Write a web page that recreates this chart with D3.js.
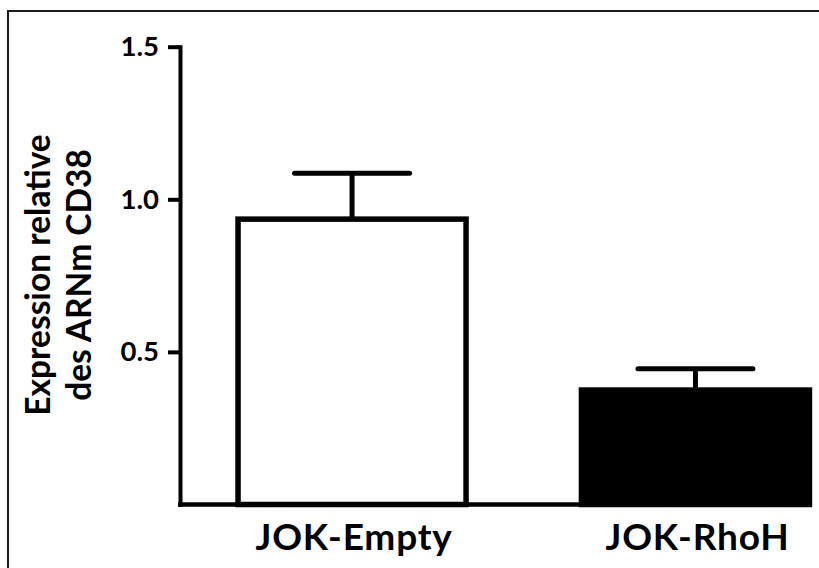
<!DOCTYPE html>
<html>
<head>
<meta charset="utf-8">
<script src="https://cdn.jsdelivr.net/npm/d3@7"></script>
<style>
  html, body { margin: 0; padding: 0; background: #fff; }
  svg { display: block; }
  text { font-family: Lato, "Open Sans", sans-serif; font-weight: 700; fill: #000; }
</style>
</head>
<body>
<svg id="chart" width="819" height="568"></svg>
<script>
// Relative CD38 mRNA expression, mean with error (SEM)
const categories = ["JOK-Empty", "JOK-RhoH"];
const means = [0.935, 0.375];
const errors = [0.15, 0.07];
const yTicks = [0.5, 1.0, 1.5];
const yTitleLines = ["Expression relative", "des ARNm CD38"];

const barFill = ["#ffffff", "#000000"];

const svg = d3.select("#chart");

// outer frame
svg.append("rect")
  .attr("x", 8).attr("y", 11)
  .attr("width", 830).attr("height", 580)
  .attr("fill", "none")
  .attr("stroke", "#1a1a1a")
  .attr("stroke-width", 2);

const y = d3.scaleLinear().domain([0, 1.5]).range([504.5, 46.7]);
const x = d3.scaleBand()
  .domain(categories)
  .range([180, 867.5])
  .paddingInner(0.336)
  .paddingOuter(0.169);

const data = categories.map((c, i) => ({ cat: c, mean: means[i], err: errors[i], fill: barFill[i] }));

// baseline from the y axis to the right edge of the last bar
const lastCat = categories[categories.length - 1];
svg.append("line")
  .attr("x1", x.range()[0] - 2)
  .attr("x2", x(lastCat) + x.bandwidth() + 2)
  .attr("y1", y(0)).attr("y2", y(0))
  .attr("stroke", "#000").attr("stroke-width", 4.5);

// error bars (upper whisker only)
const capHalf = x.bandwidth() * 0.252;
const eb = svg.append("g").selectAll("g").data(data).join("g");
eb.append("line")
  .attr("x1", d => x(d.cat) + x.bandwidth() / 2)
  .attr("x2", d => x(d.cat) + x.bandwidth() / 2)
  .attr("y1", d => y(d.mean))
  .attr("y2", d => y(d.mean + d.err))
  .attr("stroke", "#000").attr("stroke-width", 5);
eb.append("line")
  .attr("x1", d => x(d.cat) + x.bandwidth() / 2 - capHalf)
  .attr("x2", d => x(d.cat) + x.bandwidth() / 2 + capHalf)
  .attr("y1", d => y(d.mean + d.err))
  .attr("y2", d => y(d.mean + d.err))
  .attr("stroke", "#000").attr("stroke-width", 5)
  .attr("stroke-linecap", "round");

// bars
svg.append("g").selectAll("rect").data(data).join("rect")
  .attr("x", d => x(d.cat))
  .attr("y", d => y(d.mean))
  .attr("width", x.bandwidth())
  .attr("height", d => y(0) - y(d.mean))
  .attr("fill", d => d.fill)
  .attr("stroke", "#000")
  .attr("stroke-width", 5.5);

// y axis
const yAxis = svg.append("g")
  .attr("transform", `translate(${x.range()[0]},0)`)
  .call(d3.axisLeft(y)
    .tickValues(yTicks)
    .tickFormat(d3.format(".1f"))
    .tickSize(12)
    .tickSizeOuter(0)
    .tickPadding(9));
yAxis.select(".domain").attr("stroke", "#000").attr("stroke-width", 4)
  .attr("stroke-linecap", "square");
yAxis.selectAll(".tick line").attr("stroke", "#000").attr("stroke-width", 4);
yAxis.selectAll(".tick text")
  .attr("font-family", "Lato, 'Open Sans', sans-serif")
  .attr("font-weight", 700)
  .attr("font-size", 27.5)
  .attr("fill", "#000");

// category labels
svg.append("g").selectAll("text").data(categories).join("text")
  .attr("x", d => x(d) + x.bandwidth() / 2 + 2)
  .attr("y", 550)
  .attr("text-anchor", "middle")
  .attr("font-size", 37)
  .attr("letter-spacing", 0.8)
  .text(d => d);

// y axis title, two lines
const titlePos = [{ bx: 50, cy: 275 }, { bx: 90.5, cy: 275 }];
svg.append("g").selectAll("text").data(yTitleLines).join("text")
  .attr("transform", (d, i) => `translate(${titlePos[i].bx},${titlePos[i].cy}) rotate(-90)`)
  .attr("text-anchor", "middle")
  .attr("font-size", 33.5)
  .text(d => d);
</script>
</body>
</html>
